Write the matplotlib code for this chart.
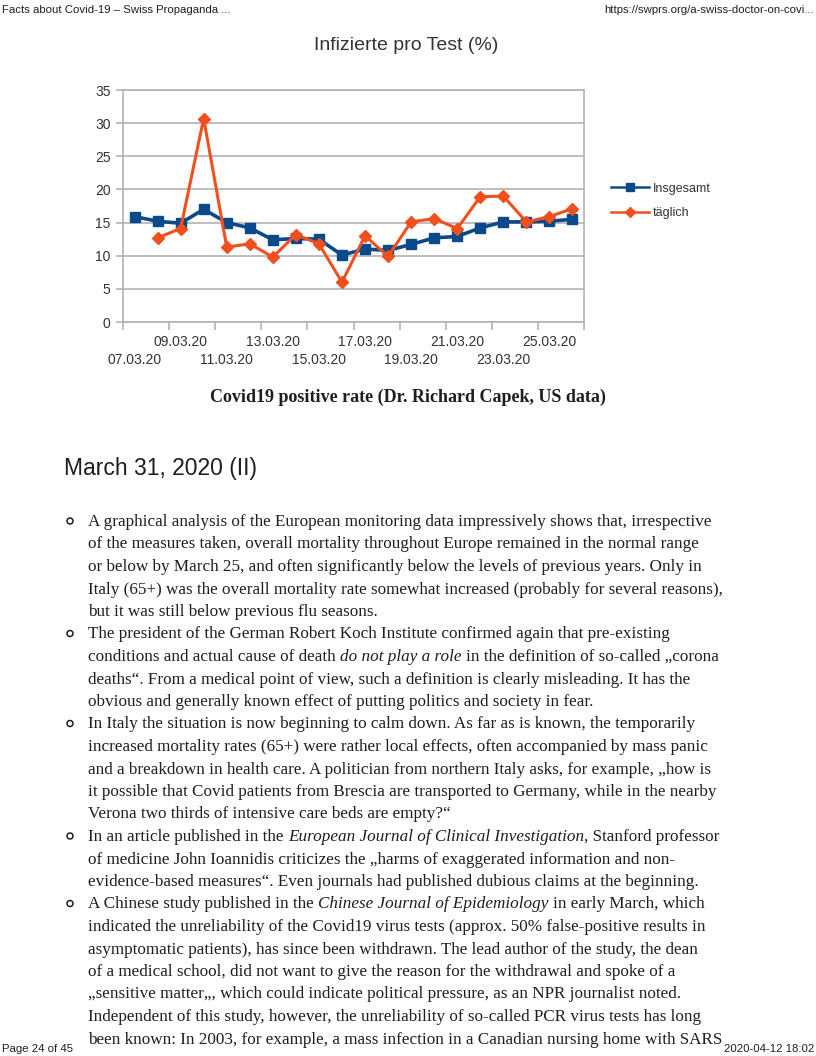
import numpy as np
import matplotlib
matplotlib.use("Agg")
import matplotlib.pyplot as plt
from matplotlib.patches import Circle

W, H = 816, 1056

# chart data
dates = ["07.03.20", "08.03.20", "09.03.20", "10.03.20", "11.03.20",
         "12.03.20", "13.03.20", "14.03.20", "15.03.20", "16.03.20",
         "17.03.20", "18.03.20", "19.03.20", "20.03.20", "21.03.20",
         "22.03.20", "23.03.20", "24.03.20", "25.03.20", "26.03.20"]
insgesamt = [15.9, 15.2, 14.9, 17.0, 15.0, 14.2, 12.4, 12.6, 12.5, 10.1,
             11.0, 10.8, 11.7, 12.7, 12.9, 14.2, 15.1, 15.1, 15.2, 15.5]
taeglich = [np.nan, 12.7, 14.1, 30.7, 11.3, 11.8, 9.8, 13.2, 11.8, 6.0,
            13.0, 9.9, 15.1, 15.6, 14.1, 18.9, 19.0, 15.1, 15.9, 17.1]
series_names = ["Insgesamt", "täglich"]
yticks = [0, 5, 10, 15, 20, 25, 30, 35]

chart_title = "Infizierte pro Test (%)"
caption = "Covid19 positive rate (Dr. Richard Capek, US data)"
heading = "March 31, 2020 (II)"
header_left = "Facts about Covid-19 – Swiss Propaganda ..."
header_right = "https://swprs.org/a-swiss-doctor-on-covi..."
footer_left = "Page 24 of 45"
footer_right = "2020-04-12 18:02"

# body text, one list per bullet, *...* = italic
bullets = [
    ["A graphical analysis of the European monitoring data impressively shows that, irrespective",
     "of the measures taken, overall mortality throughout Europe remained in the normal range",
     "or below by March 25, and often significantly below the levels of previous years. Only in",
     "Italy (65+) was the overall mortality rate somewhat increased (probably for several reasons),",
     "but it was still below previous flu seasons."],
    ["The president of the German Robert Koch Institute confirmed again that pre-existing",
     "conditions and actual cause of death *do not play a role* in the definition of so-called \u201ecorona",
     "deaths\u201c. From a medical point of view, such a definition is clearly misleading. It has the",
     "obvious and generally known effect of putting politics and society in fear."],
    ["In Italy the situation is now beginning to calm down. As far as is known, the temporarily",
     "increased mortality rates (65+) were rather local effects, often accompanied by mass panic",
     "and a breakdown in health care. A politician from northern Italy asks, for example, \u201ehow is",
     "it possible that Covid patients from Brescia are transported to Germany, while in the nearby",
     "Verona two thirds of intensive care beds are empty?\u201c"],
    ["In an article published in the *European Journal of Clinical Investigation*, Stanford professor",
     "of medicine John Ioannidis criticizes the \u201eharms of exaggerated information and non-",
     "evidence-based measures\u201c. Even journals had published dubious claims at the beginning."],
    ["A Chinese study published in the *Chinese Journal of Epidemiology* in early March, which",
     "indicated the unreliability of the Covid19 virus tests (approx. 50% false-positive results in",
     "asymptomatic patients), has since been withdrawn. The lead author of the study, the dean",
     "of a medical school, did not want to give the reason for the withdrawal and spoke of a",
     "\u201esensitive matter\u201e, which could indicate political pressure, as an NPR journalist noted.",
     "Independent of this study, however, the unreliability of so-called PCR virus tests has long",
     "been known: In 2003, for example, a mass infection in a Canadian nursing home with SARS"],
]

BLUE = "#0a4a8a"
ORANGE = "#f0501e"
GRID = "#b3b3b3"
TXT = "#1e1e1e"
LAB = "#333333"

fig = plt.figure(figsize=(W / 100, H / 100), dpi=100)
fig.patch.set_facecolor("white")

# full page overlay in pixel coords (y down)
bg = fig.add_axes([0, 0, 1, 1])
bg.set_xlim(0, W)
bg.set_ylim(H, 0)
bg.axis("off")

bg.text(2, 10, header_left, fontsize=8.2, family="Liberation Sans", va="center", color=TXT)
bg.text(814, 10, header_right, fontsize=8.2, family="Liberation Sans", va="center", ha="right", color=TXT)
bg.text(2, 1049, footer_left, fontsize=8.2, family="Liberation Sans", va="center", color=TXT)
bg.text(814, 1049, footer_right, fontsize=8.2, family="Liberation Sans", va="center", ha="right", color=TXT)

bg.text(406, 45, chart_title, fontsize=14, family="Liberation Sans", ha="center", va="center", color=LAB)
bg.text(408, 397, caption, fontsize=13, family="Liberation Serif", weight="bold",
        ha="center", va="center", color=TXT)
bg.text(64, 468, heading, fontsize=16.5, family="Liberation Sans", va="center", color=TXT)

# chart
ax = fig.add_axes([123 / W, 1 - 322 / H, 461 / W, 232 / H])
x = np.arange(len(dates))
ax.plot(x, insgesamt, color=BLUE, lw=2.6, marker="s", ms=7.5, label=series_names[0])
ax.plot(x, taeglich, color=ORANGE, lw=2.2, marker="D", ms=6, label=series_names[1])
ax.set_xlim(-0.5, len(dates) - 0.5)
ax.set_ylim(yticks[0], yticks[-1])
ax.set_yticks(yticks)
ax.yaxis.grid(True, color=GRID, lw=1.2)
ax.set_axisbelow(True)
for s in ax.spines.values():
    s.set_color(GRID)
    s.set_linewidth(1.2)
ax.tick_params(axis="y", length=5, color=GRID, width=1.2, pad=4, labelsize=10, labelcolor=LAB)

# tick marks between every second day
ax.set_xticks(np.arange(-0.5, len(dates), 2))
ax.set_xticklabels([])
ax.tick_params(axis="x", which="major", length=6, color=GRID, width=1.2)
# upper label row
ax.set_xticks(x[2::4], minor=True)
ax.set_xticklabels(dates[2::4], minor=True)
ax.tick_params(axis="x", which="minor", length=0, pad=9, labelsize=10, labelcolor=LAB)
# lower label row
sec = ax.secondary_xaxis("bottom")
sec.set_xticks(x[0::4])
sec.set_xticklabels(dates[0::4])
sec.tick_params(axis="x", length=0, pad=22, labelsize=10, labelcolor=LAB)
sec.spines["bottom"].set_visible(False)
for lab in (ax.get_xticklabels(minor=True) + ax.get_yticklabels()
            + sec.get_xticklabels()):
    lab.set_family("Liberation Sans")

leg = ax.legend(loc="center left", bbox_to_anchor=(611 / W, 1 - 201 / H),
                bbox_transform=fig.transFigure, frameon=False,
                handlelength=3.0, handletextpad=0.35, labelspacing=1.0, markerscale=0.8,
                borderpad=0, borderaxespad=0, prop={"family": "Liberation Sans", "size": 9})
for t in leg.get_texts():
    t.set_color(LAB)
for h in leg.get_lines():
    h.set_linewidth(1.8)

# body text
renderer = fig.canvas.get_renderer()
body_kw = dict(family="Liberation Serif", fontsize=12.35, color=TXT, va="baseline")


def text_width(s, style="normal"):
    t = bg.text(0, 0, s, style=style, **body_kw)
    w = t.get_window_extent(renderer).width
    t.remove()
    return w


space_w = text_width("a a") - text_width("aa")


def draw_line(x0, y, line):
    xx = x0
    for i, part in enumerate(line.split("*")):
        if not part:
            continue
        style = "italic" if i % 2 else "normal"
        if part.startswith(" "):
            xx += space_w
        t = bg.text(xx, y, part.strip(), style=style, **body_kw)
        xx = t.get_window_extent(renderer).x1
        if part.endswith(" "):
            xx += space_w


y = 526
for lines in bullets:
    bg.add_patch(Circle((70, y - 5), 3.0, fill=False, ec=TXT, lw=1.1))
    for line in lines:
        draw_line(88, y, line)
        y += 22.5

fig.savefig("out.png", dpi=100)
